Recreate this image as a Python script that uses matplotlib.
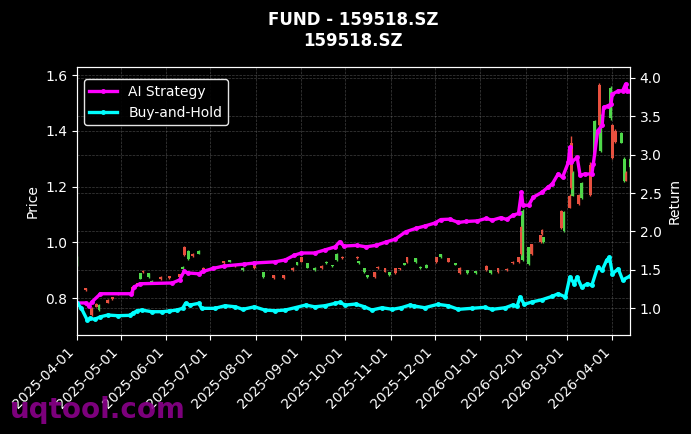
import pandas as pd
import matplotlib
matplotlib.use("Agg")
import matplotlib.pyplot as plt
import matplotlib.dates as mdates

# ---- candle data (price axis) ----
candle_dates = [
    "2025-04-01", "2025-04-07", "2025-04-11", "2025-04-14", "2025-04-16", "2025-04-22",
    "2025-04-25", "2025-04-29", "2025-05-09", "2025-05-12", "2025-05-14", "2025-05-16",
    "2025-05-20", "2025-05-22", "2025-05-28", "2025-06-03", "2025-06-10", "2025-06-12",
    "2025-06-13", "2025-06-16", "2025-06-19", "2025-06-23", "2025-06-26", "2025-07-04",
    "2025-07-10", "2025-07-14", "2025-07-18", "2025-07-23", "2025-07-31", "2025-08-06",
    "2025-08-13", "2025-08-20", "2025-08-26", "2025-08-29", "2025-09-01", "2025-09-05",
    "2025-09-10", "2025-09-15", "2025-09-18", "2025-09-22", "2025-09-25", "2025-09-29",
    "2025-10-09", "2025-10-10", "2025-10-14", "2025-10-16", "2025-10-21", "2025-10-23",
    "2025-10-28", "2025-10-31", "2025-11-04", "2025-11-07", "2025-11-10", "2025-11-12",
    "2025-11-18", "2025-11-21", "2025-11-25", "2025-12-02", "2025-12-05", "2025-12-10",
    "2025-12-15", "2025-12-18", "2025-12-23", "2025-12-29", "2026-01-05", "2026-01-08",
    "2026-01-13", "2026-01-19", "2026-01-23", "2026-01-27", "2026-01-29", "2026-01-30",
    "2026-02-03", "2026-02-05", "2026-02-11", "2026-02-12", "2026-02-13", "2026-02-25",
    "2026-02-27", "2026-03-03", "2026-03-04", "2026-03-05", "2026-03-09", "2026-03-11",
    "2026-03-17", "2026-03-20", "2026-03-23", "2026-03-24", "2026-03-31", "2026-04-01",
    "2026-04-03", "2026-04-07", "2026-04-09", "2026-04-10", "2026-04-13",
]
c_open = [
    0.920, 0.835, 0.765, 0.780, 0.757, 0.795, 0.803, 0.820, 0.840, 0.853, 0.870, 0.898,
    0.875, 0.855, 0.876, 0.878, 0.885, 0.905, 0.985, 0.940, 0.960, 0.960, 0.910, 0.905,
    0.932, 0.930, 0.920, 0.900, 0.930, 0.875, 0.882, 0.882, 0.910, 0.920, 0.946, 0.910,
    0.900, 0.917, 0.925, 0.914, 0.936, 0.948, 0.948, 0.925, 0.893, 0.875, 0.893, 0.912,
    0.907, 0.882, 0.907, 0.908, 0.920, 0.946, 0.928, 0.908, 0.910, 0.946, 0.946, 0.943,
    0.920, 0.910, 0.890, 0.890, 0.917, 0.890, 0.908, 0.905, 0.930, 0.946, 1.054, 0.936,
    0.921, 0.993, 1.025, 1.046, 1.000, 1.114, 1.040, 1.168, 1.357, 1.168, 1.171, 1.160,
    1.279, 1.314, 1.564, 1.329, 1.446, 1.421, 1.400, 1.357, 1.220, 1.250, 1.270,
]
c_high = [
    0.950, 0.837, 0.770, 0.783, 0.778, 0.798, 0.805, 0.822, 0.842, 0.855, 0.892, 0.900,
    0.892, 0.864, 0.878, 0.880, 0.887, 0.915, 0.988, 0.972, 0.962, 0.972, 0.912, 0.914,
    0.934, 0.938, 0.922, 0.912, 0.932, 0.895, 0.884, 0.884, 0.912, 0.930, 0.948, 0.927,
    0.912, 0.919, 0.932, 0.920, 0.962, 0.950, 0.950, 0.934, 0.909, 0.884, 0.895, 0.914,
    0.909, 0.895, 0.909, 0.910, 0.927, 0.948, 0.945, 0.914, 0.922, 0.948, 0.959, 0.945,
    0.927, 0.912, 0.902, 0.899, 0.919, 0.902, 0.910, 0.907, 0.932, 0.948, 1.060, 1.120,
    0.985, 0.996, 1.028, 1.049, 1.020, 1.118, 1.112, 1.172, 1.380, 1.255, 1.175, 1.216,
    1.290, 1.438, 1.570, 1.460, 1.560, 1.425, 1.405, 1.395, 1.305, 1.255, 1.305,
]
c_low = [
    0.915, 0.826, 0.735, 0.768, 0.755, 0.781, 0.795, 0.813, 0.818, 0.846, 0.868, 0.891,
    0.873, 0.853, 0.866, 0.870, 0.874, 0.903, 0.952, 0.938, 0.948, 0.958, 0.898, 0.903,
    0.923, 0.928, 0.913, 0.898, 0.905, 0.873, 0.869, 0.870, 0.898, 0.918, 0.928, 0.908,
    0.898, 0.905, 0.923, 0.912, 0.934, 0.942, 0.942, 0.923, 0.891, 0.873, 0.873, 0.905,
    0.893, 0.880, 0.888, 0.902, 0.918, 0.926, 0.926, 0.906, 0.908, 0.926, 0.944, 0.928,
    0.918, 0.888, 0.888, 0.888, 0.898, 0.888, 0.891, 0.898, 0.923, 0.926, 0.955, 0.934,
    0.918, 0.955, 0.998, 1.027, 0.998, 1.048, 1.036, 1.123, 1.190, 1.165, 1.134, 1.155,
    1.168, 1.310, 1.419, 1.325, 1.440, 1.300, 1.358, 1.355, 1.218, 1.219, 1.268,
]
c_close = [
    0.945, 0.828, 0.740, 0.770, 0.775, 0.783, 0.797, 0.815, 0.820, 0.848, 0.890, 0.893,
    0.890, 0.862, 0.868, 0.872, 0.876, 0.913, 0.955, 0.970, 0.950, 0.970, 0.900, 0.912,
    0.925, 0.936, 0.915, 0.910, 0.907, 0.893, 0.871, 0.872, 0.900, 0.928, 0.930, 0.925,
    0.910, 0.907, 0.930, 0.918, 0.960, 0.944, 0.944, 0.932, 0.907, 0.882, 0.875, 0.907,
    0.895, 0.893, 0.890, 0.904, 0.925, 0.928, 0.943, 0.912, 0.920, 0.928, 0.957, 0.930,
    0.925, 0.890, 0.900, 0.897, 0.900, 0.900, 0.893, 0.900, 0.925, 0.928, 0.957, 1.114,
    0.982, 0.957, 1.000, 1.029, 1.018, 1.050, 1.110, 1.125, 1.196, 1.250, 1.136, 1.214,
    1.171, 1.436, 1.421, 1.457, 1.554, 1.304, 1.360, 1.393, 1.300, 1.221, 1.300,
]

# ---- strategy returns (return axis) ----
ai_dates = [
    "2025-04-01", "2025-04-07", "2025-04-09", "2025-04-11", "2025-04-17", "2025-05-08",
    "2025-05-10", "2025-05-14", "2025-06-05", "2025-06-10", "2025-06-13", "2025-06-16",
    "2025-06-23", "2025-06-26", "2025-07-03", "2025-07-10", "2025-07-24", "2025-07-31",
    "2025-08-14", "2025-08-21", "2025-08-27", "2025-09-01", "2025-09-10", "2025-09-17",
    "2025-09-24", "2025-09-27", "2025-09-30", "2025-10-09", "2025-10-15", "2025-10-22",
    "2025-10-29", "2025-11-04", "2025-11-11", "2025-11-18", "2025-11-24", "2025-12-01",
    "2025-12-05", "2025-12-11", "2025-12-17", "2025-12-22", "2025-12-30", "2026-01-05",
    "2026-01-09", "2026-01-15", "2026-01-19", "2026-01-23", "2026-01-27", "2026-01-29",
    "2026-01-30", "2026-02-03", "2026-02-06", "2026-02-12", "2026-02-16", "2026-02-19",
    "2026-02-23", "2026-02-26", "2026-03-02", "2026-03-03", "2026-03-04", "2026-03-08",
    "2026-03-10", "2026-03-13", "2026-03-18", "2026-03-19", "2026-03-22", "2026-03-25",
    "2026-03-26", "2026-03-29", "2026-03-31", "2026-04-01", "2026-04-05", "2026-04-08",
    "2026-04-10", "2026-04-11", "2026-04-13",
]
ai_return = [
    1.07, 1.07, 1.03, 1.08, 1.19, 1.19, 1.28, 1.32, 1.33, 1.37, 1.48, 1.46,
    1.45, 1.48, 1.52, 1.55, 1.575, 1.59, 1.605, 1.63, 1.69, 1.72, 1.72, 1.76,
    1.80, 1.865, 1.81, 1.82, 1.80, 1.82, 1.865, 1.90, 1.995, 2.04, 2.07, 2.11,
    2.155, 2.16, 2.117, 2.13, 2.138, 2.17, 2.147, 2.18, 2.156, 2.21, 2.234, 2.51,
    2.342, 2.342, 2.445, 2.51, 2.575, 2.618, 2.748, 2.705, 2.90, 3.095, 2.90, 2.965,
    2.73, 2.748, 2.748, 2.878, 3.31, 3.38, 3.614, 3.636, 3.657, 3.787, 3.83, 3.83,
    3.917, 3.83, 3.822,
]
bh_dates = [
    "2025-04-01", "2025-04-04", "2025-04-08", "2025-04-10", "2025-04-13", "2025-04-17",
    "2025-04-22", "2025-04-29", "2025-05-07", "2025-05-09", "2025-05-12", "2025-05-15",
    "2025-05-22", "2025-05-29", "2025-06-03", "2025-06-08", "2025-06-12", "2025-06-14",
    "2025-06-17", "2025-06-23", "2025-06-25", "2025-07-04", "2025-07-11", "2025-07-18",
    "2025-07-23", "2025-07-31", "2025-08-07", "2025-08-14", "2025-08-21", "2025-08-28",
    "2025-09-04", "2025-09-10", "2025-09-17", "2025-09-24", "2025-09-27", "2025-10-01",
    "2025-10-08", "2025-10-14", "2025-10-19", "2025-10-26", "2025-11-02", "2025-11-08",
    "2025-11-14", "2025-11-17", "2025-11-24", "2025-12-03", "2025-12-10", "2025-12-17",
    "2025-12-26", "2026-01-04", "2026-01-09", "2026-01-18", "2026-01-23", "2026-01-26",
    "2026-01-28", "2026-01-31", "2026-02-05", "2026-02-12", "2026-02-19", "2026-02-23",
    "2026-02-28", "2026-03-03", "2026-03-06", "2026-03-08", "2026-03-11", "2026-03-15",
    "2026-03-18", "2026-03-22", "2026-03-25", "2026-03-28", "2026-03-30", "2026-04-01",
    "2026-04-05", "2026-04-08", "2026-04-13",
]
bh_return = [
    1.073, 1.0, 0.848, 0.87, 0.857, 0.89, 0.913, 0.904, 0.909, 0.935, 0.969, 0.978,
    0.956, 0.956, 0.965, 0.978, 1.0, 1.065, 1.043, 1.065, 1.0, 1.0, 1.034, 1.02,
    0.987, 1.02, 0.978, 0.969, 0.978, 1.01, 1.043, 1.02, 1.034, 1.065, 1.078, 1.043,
    1.056, 1.02, 0.978, 1.008, 0.987, 1.008, 1.043, 1.03, 1.008, 1.052, 1.034, 0.987,
    1.0, 1.013, 0.987, 1.008, 1.043, 1.026, 1.147, 1.052, 1.082, 1.112, 1.156, 1.19,
    1.147, 1.406, 1.32, 1.406, 1.277, 1.32, 1.30, 1.54, 1.494, 1.623, 1.666, 1.449,
    1.514, 1.368, 1.42,
]

UP, DOWN = '#4fd84a', '#e8503f'

plt.style.use('dark_background')
fig, ax = plt.subplots(figsize=(6.91, 4.34), dpi=100)
fig.subplots_adjust(left=0.1114, right=0.9117, top=0.8456, bottom=0.2281)

cd = pd.to_datetime(candle_dates)
for d, o, h, l, c in zip(cd, c_open, c_high, c_low, c_close):
    col = UP if c >= o else DOWN
    ax.vlines(d, l, h, color=col, lw=1.0)
    ax.bar(d, max(abs(c - o), 0.004), bottom=min(o, c), width=2.0, color=col,
           linewidth=0)

ax.set_ylabel('Price')
ax.set_ylim(0.668, 1.629)
ax.grid(True, ls='--', lw=0.5, color='gray', alpha=0.5)

ax2 = ax.twinx()
ax2.plot(pd.to_datetime(ai_dates), ai_return, color='#ff00ff', lw=2.4, marker='o',
         ms=2.5, label='AI Strategy')
ax2.plot(pd.to_datetime(bh_dates), bh_return, color='#00ffff', lw=2.4, marker='o',
         ms=2.5, label='Buy-and-Hold')
ax2.set_ylabel('Return')
ax2.set_ylim(0.653, 4.14)
ax2.grid(True, ls='--', lw=0.5, color='gray', alpha=0.5)
ax2.legend(loc='upper left', bbox_to_anchor=(0, 0.981), facecolor='black',
           edgecolor='white', framealpha=0.9)

ax.set_xlim(pd.Timestamp('2025-04-01'), pd.Timestamp('2026-04-13'))
ax.xaxis.set_major_locator(mdates.MonthLocator())
ax.xaxis.set_major_formatter(mdates.DateFormatter('%Y-%m-%d'))
plt.setp(ax.get_xticklabels(), rotation=45, ha='right')

ax.set_title('FUND - 159518.SZ\n159518.SZ', fontsize=12, fontweight='bold', pad=15)

fig.text(0.015, 0.055, 'uqtool.com', fontsize=20, fontweight='bold', color='#8b008b',
         alpha=0.9, va='center', ha='left')

fig.savefig('out.png', dpi=100, facecolor='black')
